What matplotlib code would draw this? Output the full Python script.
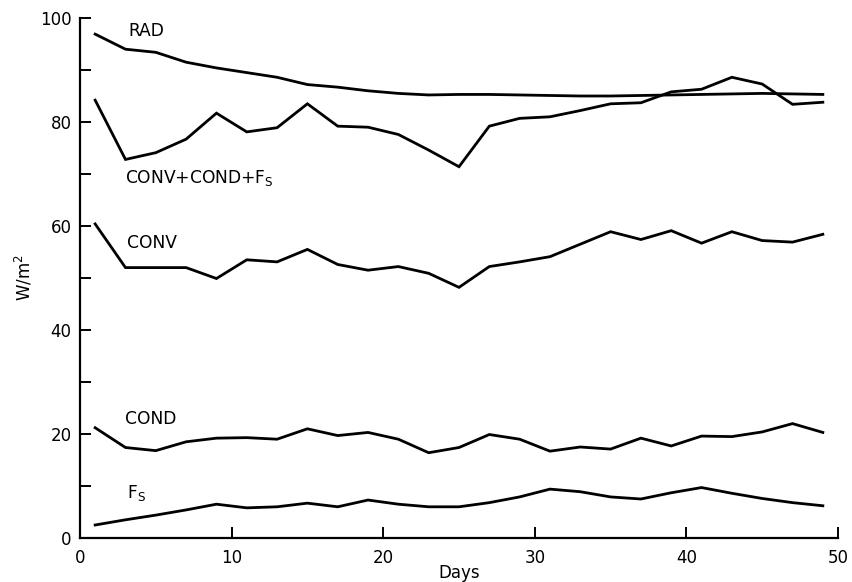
import matplotlib
matplotlib.use("Agg")
import matplotlib.pyplot as plt
from matplotlib.ticker import MultipleLocator

# day number of each reading (every other day)
days = [1, 3, 5, 7, 9, 11, 13, 15, 17, 19, 21, 23, 25,
        27, 29, 31, 33, 35, 37, 39, 41, 43, 45, 47, 49]

rad = [96.9, 94.0, 93.4, 91.5, 90.4, 89.5, 88.6, 87.2, 86.7, 86.0, 85.5, 85.2, 85.3,
       85.3, 85.2, 85.1, 85.0, 85.0, 85.1, 85.2, 85.3, 85.4, 85.5, 85.4, 85.3]
conv_cond_fs = [84.2, 72.8, 74.1, 76.7, 81.7, 78.1, 78.9, 83.5, 79.2, 79.0, 77.6, 74.6, 71.4,
                79.2, 80.7, 81.0, 82.2, 83.5, 83.7, 85.8, 86.3, 88.6, 87.3, 83.4, 83.8]
conv = [60.4, 52.0, 52.0, 52.0, 49.9, 53.5, 53.1, 55.5, 52.6, 51.5, 52.2, 50.9, 48.2,
        52.2, 53.1, 54.1, 56.5, 58.9, 57.4, 59.1, 56.7, 58.9, 57.2, 56.9, 58.4]
cond = [21.2, 17.4, 16.8, 18.5, 19.2, 19.3, 19.0, 21.0, 19.7, 20.3, 19.0, 16.4, 17.4,
        19.9, 19.0, 16.7, 17.5, 17.1, 19.2, 17.7, 19.6, 19.5, 20.4, 22.0, 20.3]
fs = [2.5, 3.5, 4.4, 5.4, 6.5, 5.8, 6.0, 6.7, 6.0, 7.3, 6.5, 6.0, 6.0,
      6.8, 7.9, 9.4, 8.9, 7.9, 7.5, 8.7, 9.7, 8.6, 7.6, 6.8, 6.2]

series = [rad, conv_cond_fs, conv, cond, fs]
names = ["RAD", r"CONV+COND+F$_\mathregular{S}$", "CONV", "COND", r"F$_\mathregular{S}$"]
label_xy = [(3.2, 97.5), (3.0, 69.3), (3.1, 56.8), (3.0, 22.9), (3.1, 8.6)]

fig = plt.figure(figsize=(8.52, 5.82), dpi=100)
ax = fig.add_axes([80 / 852, 44 / 582, 758 / 852, 520 / 582])

for s in series:
    ax.plot(days, s, color="black", lw=2.0, solid_joinstyle="miter")
for name, (x, y) in zip(names, label_xy):
    ax.text(x, y, name, fontsize=12.3, va="center", ha="left")

ax.set_xlim(0, 50)
ax.set_ylim(0, 100)
ax.spines[["top", "right"]].set_visible(False)
for sp in ("left", "bottom"):
    ax.spines[sp].set_linewidth(1.6)

ax.xaxis.set_major_locator(MultipleLocator(10))
ax.yaxis.set_major_locator(MultipleLocator(20))
ax.yaxis.set_minor_locator(MultipleLocator(10))
ax.tick_params(axis="both", which="both", direction="in", length=8, width=1.4,
               labelsize=12)
ax.tick_params(axis="x", pad=8)
ax.tick_params(axis="y", pad=6)

ax.set_xlabel("Days", fontsize=12, labelpad=-2)
ax.set_ylabel("W/m$^2$", fontsize=12, labelpad=4)

fig.savefig("out.png", dpi=100)
